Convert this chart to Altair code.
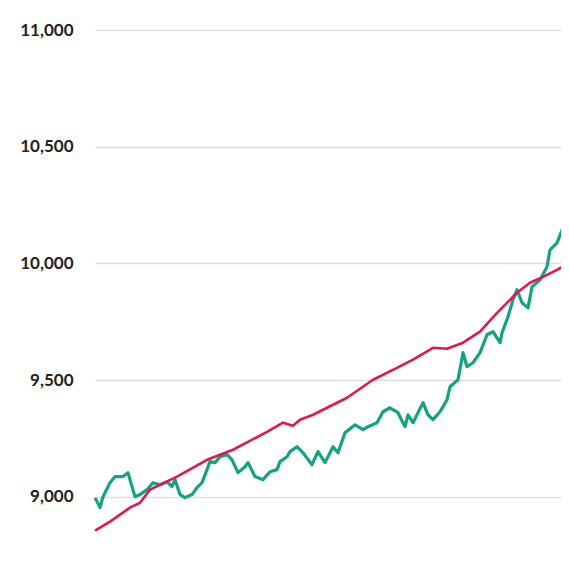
import altair as alt
import pandas as pd

# Day index (approximate trading-day positions) and values
green_day = [0, 5, 8, 15, 20, 28, 33, 37, 40, 45, 52, 58, 65, 72, 77, 80, 85, 90,
             97, 102, 107, 112, 115, 120, 125, 132, 137, 143, 150, 153, 160, 168,
             175, 182, 185, 192, 195, 202, 208, 217, 223, 230, 238, 243, 250, 260,
             268, 273, 282, 288, 295, 303, 310, 313, 318, 328, 333, 338, 345, 352,
             355, 363, 368, 372, 378, 385, 392, 398, 405, 407, 413, 418, 422, 427,
             433, 437, 445, 452, 455, 462, 467, 470, 473]
green_val = [8996, 8953, 9000, 9060, 9086, 9086, 9103, 9043, 9000, 9009, 9030, 9060,
             9051, 9064, 9043, 9073, 9009, 8996, 9009, 9039, 9060, 9116, 9150, 9146,
             9171, 9180, 9158, 9103, 9128, 9146, 9086, 9073, 9107, 9116, 9150, 9171,
             9193, 9214, 9188, 9137, 9193, 9146, 9214, 9188, 9274, 9308, 9287, 9300,
             9317, 9364, 9381, 9360, 9300, 9351, 9317, 9403, 9351, 9330, 9364, 9415,
             9471, 9501, 9617, 9557, 9574, 9617, 9694, 9707, 9660, 9702, 9771, 9844,
             9887, 9831, 9809, 9899, 9929, 9985, 10058, 10088, 10143, 10186, 10178]

red_day = [0, 15, 35, 45, 55, 82, 112, 138, 172, 188, 198, 205, 218, 252, 278, 302,
           318, 338, 352, 368, 385, 402, 422, 435, 448, 462, 474]
red_val = [8854, 8893, 8953, 8974, 9030, 9086, 9158, 9201, 9278, 9317, 9304, 9330,
           9351, 9424, 9501, 9552, 9587, 9638, 9634, 9660, 9707, 9788, 9874, 9917,
           9942, 9972, 10002]

y_ticks = [9000, 9500, 10000, 10500, 11000]

green_df = pd.DataFrame({"day": green_day, "value": green_val, "series": "A"})
red_df = pd.DataFrame({"day": red_day, "value": red_val, "series": "B"})

x = alt.X("day:Q", scale=alt.Scale(domain=[0, 474], nice=False, zero=False), axis=None)
y = alt.Y("value:Q",
          scale=alt.Scale(domain=[8750, 11000], nice=False, zero=False),
          axis=alt.Axis(values=y_ticks, format=",.0f", title=None, domain=False, ticks=False,
                        labelPadding=22, labelFont="Lato", labelFontSize=17,
                        labelFontWeight="bold", labelColor="#222222",
                        gridColor="#dddddd", gridWidth=1.3))

green = alt.Chart(green_df).mark_line(color="#13a383", strokeWidth=3.2, strokeJoin="round").encode(x=x, y=y)
red = alt.Chart(red_df).mark_line(color="#e3174c", strokeWidth=2.6, strokeJoin="round").encode(x=x, y=y)

chart = alt.layer(green, red).properties(
    width=474, height=525,
    padding={"left": 87, "top": 22, "right": -8, "bottom": 20},
    autosize=alt.AutoSizeParams(type="none"),
    background="white",
).configure_view(stroke=None)

chart.save("out.html", embed_options={"renderer": "svg", "actions": False})
